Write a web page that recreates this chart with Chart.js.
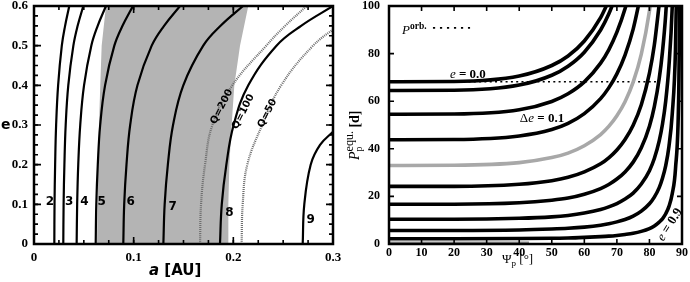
<!DOCTYPE html>
<html>
<head>
<meta charset="utf-8">
<script src="https://cdn.jsdelivr.net/npm/chart.js@4.4.1/dist/chart.umd.min.js"></script>
<style>
  body { margin: 0; background: #fff; }
  .panel { position: absolute; top: 0; width: 345px; height: 282px; }
</style>
</head>
<body>
<div class="panel" style="left:0"><canvas id="left" width="345" height="282"></canvas></div>
<div class="panel" style="left:345px"><canvas id="right" width="345" height="282"></canvas></div>
<script>
// ---- left panel: a [AU] vs e ----
const E_GRID = [0, 0.1, 0.2, 0.3, 0.4, 0.5, 0.55, 0.6];
const A_2 = [0.0204, 0.0206, 0.0212, 0.0222, 0.0242, 0.0279, 0.0312, 0.0354];
const A_3 = [0.0294, 0.0297, 0.0305, 0.0318, 0.0344, 0.0395, 0.0438, 0.0495];
const A_4 = [0.0428, 0.0433, 0.0444, 0.0464, 0.0502, 0.0575, 0.0639, 0.0722];
const A_5 = [0.0619, 0.0625, 0.0640, 0.0664, 0.0713, 0.0806, 0.0888, 0.0993];
const A_6 = [0.0896, 0.0905, 0.0928, 0.0965, 0.1038, 0.1181, 0.1305, 0.1465];
const A_7 = [0.1298, 0.1311, 0.1343, 0.1395, 0.1498, 0.1698, 0.1872, 0.2097];
const A_8 = [0.1866, 0.1884, 0.1930, 0.2003, 0.2150, 0.2433, 0.2680, 0.3000];
const E_9 = [0, 0.1, 0.2, 0.25, 0.283, 0.32];
const A_9 = [0.2696, 0.2712, 0.2776, 0.2870, 0.3000, 0.3150];
const A_Q200 = [0.1666, 0.1676, 0.1716, 0.1790, 0.1990, 0.2330, 0.2520, 0.2736];
const E_Q50 = [0, 0.1, 0.2, 0.3, 0.4, 0.5, 0.55];
const A_Q50 = [0.2083, 0.2094, 0.2140, 0.2290, 0.2480, 0.2800, 0.3050];
// grey band, outline: left edge upwards, right edge downwards
const SHADE_E = [0, 0.15, 0.3, 0.4, 0.5, 0.6, 0.6, 0.5, 0.4, 0.3, 0.2, 0.1, 0];
const SHADE_A = [0.0632, 0.0640, 0.0652, 0.0665, 0.0679, 0.0722, 0.2150, 0.2067, 0.2010, 0.1983, 0.1960, 0.1950, 0.1950];

// ---- right panel: Psi_p [deg] vs P_p^equ [d] ----
const PSI = [0, 20, 40, 50, 55, 60, 65, 67.5, 70, 72.5, 75, 77.5, 80, 81.5, 83, 84, 85, 86, 87, 88, 89, 89.5];
const P_E00 = [68.2, 68.3, 70.6, 75.0, 79.0, 85.3, 95.1, 102.2];
const P_E01 = [64.5, 64.6, 66.8, 70.9, 74.7, 80.6, 89.9, 96.6, 105.3];
const P_E02 = [54.5, 54.6, 56.4, 59.9, 63.1, 68.1, 76.0, 81.6, 89.0, 98.8, 112.3];
const P_E03 = [43.8, 43.9, 45.4, 48.1, 50.7, 54.8, 61.1, 65.6, 71.5, 79.4, 90.3, 105.9];
const P_E04 = [33.0, 33.1, 34.2, 36.3, 38.2, 41.3, 46.0, 49.4, 53.9, 59.8, 68.0, 79.8, 97.9, 114.1];
const P_E05 = [24.2, 24.2, 25.1, 26.6, 28.0, 30.3, 33.7, 36.2, 39.5, 43.9, 49.9, 58.5, 71.8, 83.6, 100.8];
const P_E06 = [16.7, 16.7, 17.3, 18.4, 19.3, 20.9, 23.3, 25.0, 27.3, 30.3, 34.4, 40.4, 49.5, 57.7, 69.5, 80.8, 96.5, 120.3];
const P_E07 = [10.4, 10.4, 10.8, 11.4, 12.0, 13.0, 14.5, 15.6, 17.0, 18.9, 21.4, 25.2, 30.8, 35.9, 43.3, 50.3, 60.1, 74.9, 99.6, 149.2];
const P_E08 = [5.7, 5.7, 5.9, 6.3, 6.6, 7.1, 7.9, 8.5, 9.3, 10.3, 11.7, 13.8, 16.9, 19.7, 23.7, 27.6, 32.9, 41.1, 54.6, 81.8, 163.4];
const P_E09 = [2.2, 2.2, 2.3, 2.4, 2.5, 2.8, 3.1, 3.3, 3.6, 4.0, 4.5, 5.3, 6.5, 7.6, 9.2, 10.6, 12.7, 15.8, 21.1, 31.6, 63.0, 126.1];
const PORB_PSI = [0, 83];
const PORB_P = [68.2, 68.2];
const BASE_PSI = [0, 43];
const BASE_P = [0.6, 0.6];

const pts = (xs, ys) => ys.map((y, i) => ({ x: xs[i], y: y }));

const SERIF = "'Liberation Serif', 'DejaVu Serif', serif";
const SANS = "'DejaVu Sans', sans-serif";

function runsWidth(ctx, runs) {
  let w = 0, pend = 0;
  for (const r of runs) {
    ctx.font = r.font;
    const m = ctx.measureText(r.t).width;
    if (r.stack) pend = Math.max(pend, m);
    else { w += Math.max(m, pend); pend = 0; }
  }
  return w + pend;
}

function drawRuns(ctx, runs, x, y) {
  let cx = x, pend = 0;
  for (const r of runs) {
    ctx.font = r.font;
    ctx.fillText(r.t, cx, y + (r.dy || 0));
    const m = ctx.measureText(r.t).width;
    if (r.stack) pend = Math.max(pend, m);
    else { cx += Math.max(m, pend); pend = 0; }
  }
}

// frame with inward ticks on all four sides
const frameTicks = {
  id: 'frameTicks',
  afterDatasetsDraw(chart, args, o) {
    const { ctx, chartArea: a, scales: { x, y } } = chart;
    ctx.save();
    ctx.strokeStyle = '#000';
    ctx.lineWidth = 1.6;
    const marks = (scale, step, len) => {
      const n = Math.round((scale.max - scale.min) / step);
      for (let i = 0; i <= n; i++) {
        const p = scale.getPixelForValue(scale.min + i * step);
        ctx.beginPath();
        if (scale.isHorizontal()) {
          ctx.moveTo(p, a.bottom); ctx.lineTo(p, a.bottom - len);
          ctx.moveTo(p, a.top); ctx.lineTo(p, a.top + len);
        } else {
          ctx.moveTo(a.left, p); ctx.lineTo(a.left + len, p);
          ctx.moveTo(a.right, p); ctx.lineTo(a.right - len, p);
        }
        ctx.stroke();
      }
    };
    if (o.xMinor) marks(x, o.xMinor, o.minorLen);
    marks(x, o.xMajor, o.majorLen);
    if (o.yMinor) marks(y, o.yMinor, o.minorLen);
    marks(y, o.yMajor, o.majorLen);
    ctx.lineWidth = o.frame;
    ctx.strokeRect(a.left, a.top, a.right - a.left, a.bottom - a.top);
    ctx.restore();
  }
};

// text labels, placed by data values (x, y) or by pixel (px, py)
const notes = {
  id: 'notes',
  afterDraw(chart, args, o) {
    const { ctx, scales: { x, y } } = chart;
    ctx.save();
    ctx.fillStyle = '#000';
    for (const d of (o.dashes || [])) {
      ctx.save();
      ctx.strokeStyle = '#000';
      ctx.lineWidth = d.width;
      ctx.setLineDash(d.dash);
      ctx.beginPath();
      const py = y.getPixelForValue(d.y);
      ctx.moveTo(x.getPixelForValue(d.x0), py);
      ctx.lineTo(x.getPixelForValue(d.x1), py);
      ctx.stroke();
      ctx.restore();
    }
    for (const n of o.items) {
      const px = n.px !== undefined ? n.px : x.getPixelForValue(n.x);
      const py = n.py !== undefined ? n.py : y.getPixelForValue(n.y);
      ctx.save();
      ctx.translate(px, py);
      if (n.rot) ctx.rotate(n.rot * Math.PI / 180);
      ctx.textBaseline = n.middle ? 'middle' : 'alphabetic';
      ctx.textAlign = 'left';
      const w = runsWidth(ctx, n.runs);
      drawRuns(ctx, n.runs, n.align === 'center' ? -w / 2 : 0, 0);
      ctx.restore();
    }
    ctx.restore();
  }
};

const curve = (data, color, width) => ({
  data: data, borderColor: color, borderWidth: width, pointRadius: 0,
  fill: false, clip: 0, order: 1
});

// ---------- left chart ----------
const leftSets = [A_2, A_3, A_4, A_5, A_6, A_7, A_8].map(a => ({ ...curve(pts(a, E_GRID), '#000', 2.2), tension: 0.4 }));
leftSets.push({ ...curve(pts(A_9, E_9), '#000', 2.2), tension: 0.4 });
leftSets.push({ ...curve(pts(A_Q200, E_GRID), '#6e6e6e', 2.2), tension: 0.4, borderDash: [1, 1], order: 2 });
leftSets.push({ ...curve(pts(A_Q50, E_Q50), '#6e6e6e', 2.2), tension: 0.4, borderDash: [1, 1], order: 2 });
leftSets.push({
  data: pts(SHADE_A, SHADE_E), fill: 'shape', backgroundColor: '#b4b4b4',
  borderColor: 'rgba(0,0,0,0)', borderWidth: 1, pointRadius: 0, tension: 0, order: 3
});

const numLabel = (t, a, e) => ({ x: a, y: e, align: 'center', middle: true, runs: [{ t: t, font: 'bold 12px ' + SANS }] });
const qLabel = (t, a, e) => ({ x: a, y: e, align: 'center', middle: true, rot: -63, runs: [{ t: t, font: 'bold 10px ' + SANS }] });

new Chart(document.getElementById('left'), {
  type: 'line',
  data: { datasets: leftSets },
  options: {
    responsive: false, animation: false, devicePixelRatio: 1,
    layout: { padding: { top: 6, right: 12, left: 0, bottom: 0 } },
    plugins: {
      legend: { display: false }, tooltip: { enabled: false },
      frameTicks: { xMajor: 0.1, xMinor: 0.025, yMajor: 0.1, yMinor: 0.025, majorLen: 7, minorLen: 4, frame: 2.5 },
      notes: {
        items: [
          numLabel('2', 0.0161, 0.107), numLabel('3', 0.0354, 0.107), numLabel('4', 0.0505, 0.107),
          numLabel('5', 0.0679, 0.107), numLabel('6', 0.0970, 0.107), numLabel('7', 0.1392, 0.0925),
          numLabel('8', 0.1960, 0.0774), numLabel('9', 0.2776, 0.0605),
          qLabel('Q=200', 0.1883, 0.346), qLabel('Q=100', 0.2100, 0.3335), qLabel('Q=50', 0.2341, 0.3295),
          { px: 1, py: 128.5, runs: [{ t: 'e', font: 'bold 14px ' + SANS }] },
          { px: 149, py: 275, runs: [{ t: 'a', font: 'italic bold 15px ' + SANS }, { t: ' [AU]', font: 'bold 15px ' + SANS }] }
        ]
      }
    },
    scales: {
      x: {
        type: 'linear', min: 0, max: 0.3,
        grid: { display: false, drawTicks: false }, border: { display: false },
        ticks: { stepSize: 0.1, autoSkip: false, maxRotation: 0, padding: 6, color: '#000',
          font: { family: SERIF, size: 13, weight: 'bold' }, callback: v => (v === 0 ? '0' : v.toFixed(1)) },
        afterFit(s) { s.height = 38; s.paddingLeft = 0; s.paddingRight = 0; }
      },
      y: {
        type: 'linear', min: 0, max: 0.6,
        grid: { display: false, drawTicks: false }, border: { display: false },
        ticks: { stepSize: 0.1, autoSkip: false, padding: 6, color: '#000',
          font: { family: SERIF, size: 13, weight: 'bold' }, callback: v => (v === 0 ? '0' : v.toFixed(1)) },
        afterFit(s) { s.width = 34; s.paddingTop = 0; s.paddingBottom = 0; }
      }
    }
  },
  plugins: [frameTicks, notes]
});

// ---------- right chart ----------
const rightSets = [P_E00, P_E01, P_E02, P_E03, P_E04, P_E05, P_E06, P_E07, P_E08, P_E09].map((p, i) => ({
  ...curve(pts(PSI, p), i === 4 ? '#a8a8a8' : '#000', 3.6), cubicInterpolationMode: 'monotone'
}));
rightSets.push({ ...curve(pts(PORB_PSI, PORB_P), '#000', 1.5), borderDash: [2, 3.3], order: 2 });
rightSets.push({ ...curve(pts(BASE_PSI, BASE_P), '#8c8c8c', 2), order: 2 });

const tnr = (t, style) => ({ t: t, font: style + ' 13px ' + SERIF });

new Chart(document.getElementById('right'), {
  type: 'line',
  data: { datasets: rightSets },
  options: {
    responsive: false, animation: false, devicePixelRatio: 1,
    layout: { padding: { top: 6, right: 8, left: 0, bottom: 0 } },
    plugins: {
      legend: { display: false }, tooltip: { enabled: false },
      frameTicks: { xMajor: 10, yMajor: 20, majorLen: 5, minorLen: 0, frame: 2.5 },
      notes: {
        dashes: [{ x0: 13.5, x1: 24.9, y: 90.8, dash: [2.2, 4.8], width: 1.6 }],
        items: [
          { x: 4, y: 88.2, runs: [tnr('P', 'italic'), { t: 'orb.', font: 'bold 9.5px ' + SERIF, dy: -5 }] },
          { x: 18.7, y: 69.6, runs: [tnr('e', 'italic'), tnr(' = 0.0', 'bold')] },
          { x: 40.2, y: 51.3, runs: [tnr('\u0394', 'normal'), tnr('e', 'italic'), tnr(' = 0.1', 'bold')] },
          { x: 86.3, y: 8.1, rot: -58, align: 'center', middle: true, runs: [tnr('e', 'italic'), tnr(' = 0.9', 'bold')] },
          { px: 14, py: 160, rot: -90, runs: [
            { t: 'P', font: 'italic 14px ' + SERIF },
            { t: 'equ.', font: '12px ' + SERIF, dy: -6, stack: true },
            { t: 'p', font: '10px ' + SERIF, dy: 3 },
            { t: ' [d]', font: 'bold 14px ' + SERIF }
          ] },
          { px: 157, py: 263, runs: [
            { t: '\u03A8', font: '13px ' + SERIF },
            { t: 'p', font: '9px ' + SERIF, dy: 3 },
            { t: ' [\u00B0]', font: '13px ' + SERIF }
          ] }
        ]
      }
    },
    scales: {
      x: {
        type: 'linear', min: 0, max: 90,
        grid: { display: false, drawTicks: false }, border: { display: false },
        ticks: { stepSize: 10, autoSkip: false, maxRotation: 0, padding: 2, color: '#000',
          font: { family: SERIF, size: 12, weight: 'bold' } },
        afterFit(s) { s.height = 38; s.paddingLeft = 0; s.paddingRight = 0; }
      },
      y: {
        type: 'linear', min: 0, max: 100,
        grid: { display: false, drawTicks: false }, border: { display: false },
        ticks: { stepSize: 20, autoSkip: false, padding: 9, color: '#000',
          font: { family: SERIF, size: 12, weight: 'bold' } },
        afterFit(s) { s.width = 44; s.paddingTop = 0; s.paddingBottom = 0; }
      }
    }
  },
  plugins: [frameTicks, notes]
});
</script>
</body>
</html>
